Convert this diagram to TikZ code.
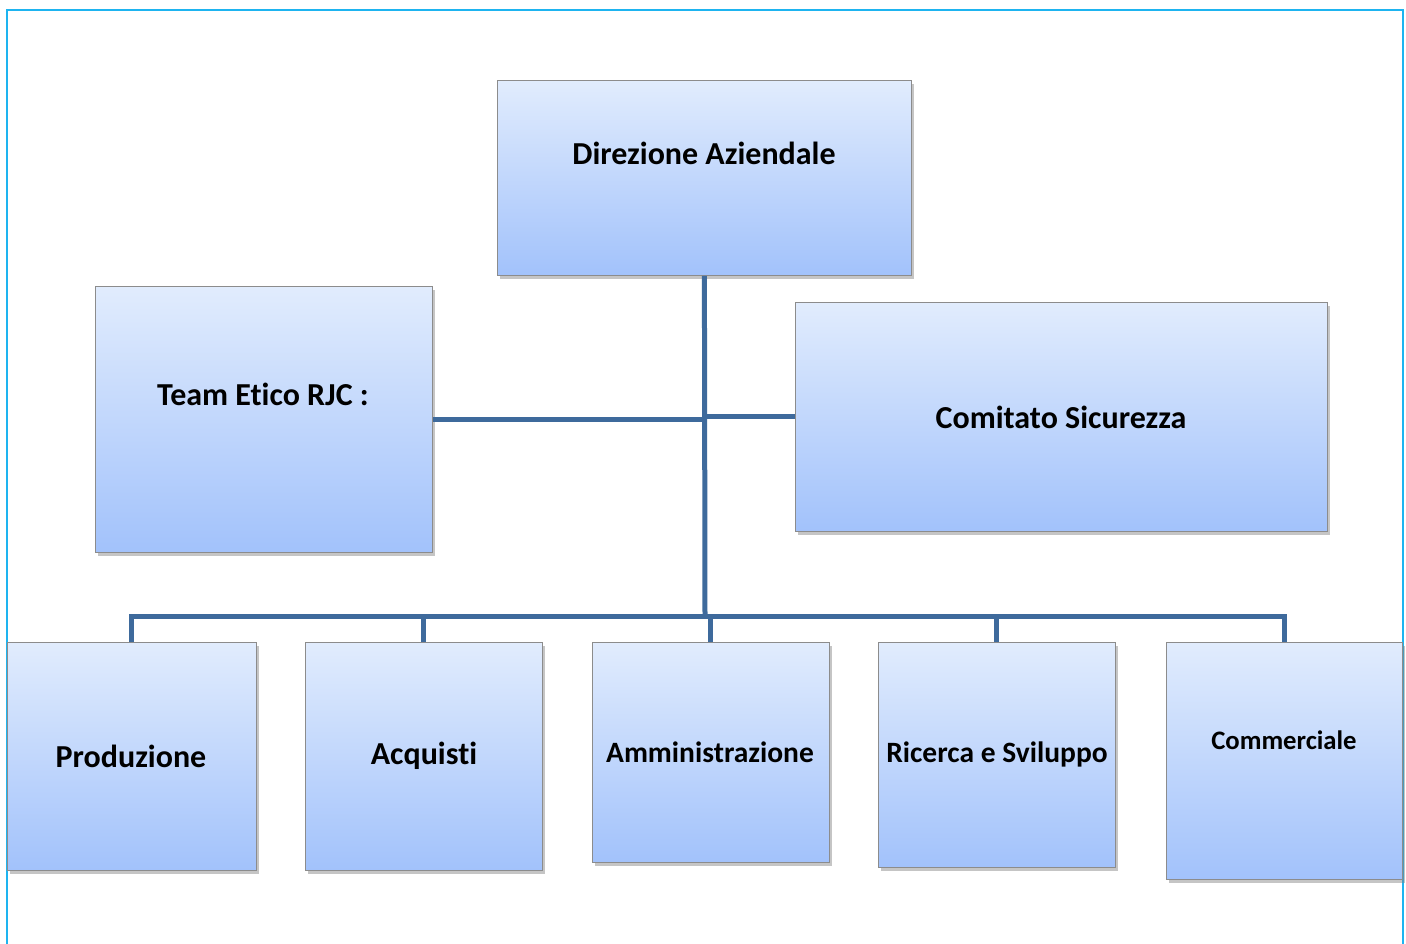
\documentclass[tikz,border=0pt]{standalone}
\usepackage{fontspec}
\setmainfont{Carlito}[Ligatures=NoCommon]
\usetikzlibrary{shadows}
\definecolor{framec}{HTML}{1EB4F0}
\definecolor{lineblue}{HTML}{3E6A9C}
\definecolor{boxtop}{HTML}{E1ECFD}
\definecolor{boxbot}{HTML}{A2C2FB}
\begin{document}
\begin{tikzpicture}[x=1pt,y=-1pt,
  box/.style={draw=black!45, line width=0.8pt, top color=boxtop, bottom color=boxbot,
    drop shadow={shadow xshift=2.5pt, shadow yshift=-3.5pt, opacity=0.45}, inner sep=0pt, anchor=north west},
  lbl/.style={font=\bfseries\fontsize{32}{36}\selectfont, inner sep=0pt},
  mlbl/.style={font=\bfseries\fontsize{29.5}{34}\selectfont, inner sep=0pt},
  slbl/.style={font=\bfseries\fontsize{26.7}{31}\selectfont, inner sep=0pt},
  conn/.style={draw=lineblue, line width=5pt, line join=miter}]
\useasboundingbox (0,0) rectangle (1406,944);
\fill[white] (0,0) rectangle (1406,944);
% frame
\draw[framec, line width=2.2pt] (7,950) -- (7,10) -- (1403,10) -- (1403,950);
% boxes
\node[box, minimum width=414pt, minimum height=195pt] (dir) at (497,80) {};
\node[box, minimum width=337pt, minimum height=266pt] (team) at (95,286) {};
\node[box, minimum width=532pt, minimum height=229pt] (com) at (795,302) {};
\node[box, minimum width=249pt, minimum height=228pt] (prod) at (7,642) {};
\node[box, minimum width=237pt, minimum height=228pt] (acq) at (305,642) {};
\node[box, minimum width=237pt, minimum height=220pt] (amm) at (592,642) {};
\node[box, minimum width=237pt, minimum height=225pt] (ric) at (878,642) {};
\node[box, minimum width=236pt, minimum height=237pt] (comm) at (1166,642) {};
% connectors
\coordinate (bus) at (705,616);
\draw[conn] (dir.south) -- (bus);
\draw[conn] (team.east) -- (team.east -| bus);
\draw[conn] (com.west) -- (com.west -| bus);
\draw[conn] (prod.north) |- (comm.north |- bus) -- (comm.north);
\draw[conn] (acq.north) -- (acq.north |- bus);
\draw[conn] (amm.north) -- (amm.north |- bus);
\draw[conn] (ric.north) -- (ric.north |- bus);
% labels
\node[lbl] (tdir) at (704,153) {Direzione Aziendale};
\node[lbl] (tteam) at (263,394) {Team Etico RJC :};
\node[lbl] (tcom) at (1061,417) {Comitato Sicurezza};
\node[lbl] (tprod) at (131,756) {Produzione};
\node[lbl] (tacq) at (424,756) {Acquisti};
\node[mlbl] (tamm) at (710,752) {Amministrazione};
\node[mlbl] (tric) at (997,754) {Ricerca e Sviluppo};
\node[slbl] (tcomm) at (1284,740) {Commerciale};
\end{tikzpicture}
\end{document}
